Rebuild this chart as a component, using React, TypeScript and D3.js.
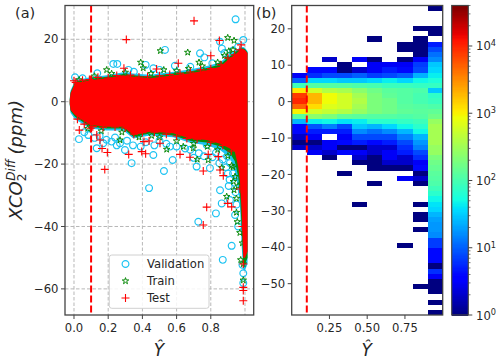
import * as d3 from "d3";

// scatter panel: the dense cloud is drawn as an envelope, isolated points as markers
const bandX = [-0.025, -0.02, 0.006, 0.094, 0.191, 0.288, 0.347, 0.444, 0.58, 0.678, 0.776, 0.854, 0.912, 0.94, 0.96, 0.971, 0.98, 0.99, 1.0, 1.015];
const testUpper = [0.5, 2.7, 5.9, 6.9, 7.5, 8.5, 8, 7.5, 8.5, 9.1, 10.1, 11.2, 13.9, 15, 16, 16.6, 16.8, 16.8, 16.6, 15.5];
const testLower = [-0.5, -2.7, -4.3, -7.5, -8, -8, -10.7, -9.6, -10.1, -11.8, -12.3, -13.5, -15, -16, -20.8, -26, -34.7, -50, -50, -48];
const trainUpper = [0.8, 3, 6.3, 7.3, 8, 8.9, 8.5, 8.1, 9.1, 9.7, 10.8, 11.9, 14.6, 15.8, 16.6, 17, 17.1, 17.1, 16.9, 15.8];
const trainLower = [-0.8, -3, -4.8, -8, -8.6, -8.6, -11.2, -10.2, -10.8, -12.5, -13.1, -14.4, -16.5, -19, -24, -30, -40, -52, -52, -50];
const validUpper = [1, 3.6, 6.8, 7.8, 8.5, 9.4, 9, 8.6, 9.6, 10.3, 11.4, 12.6, 15.4, 16.4, 17, 17.4, 17.5, 17.5, 17.2, 16.2];
const validLower = [-1, -3.6, -5.6, -8.6, -9.2, -9.2, -11.8, -10.8, -11.4, -13.2, -14, -15.5, -18, -22, -28, -34, -46, -54, -54, -52];

const validPoints = [
  [0.945, 26.4], [0.854, 19.2], [0.99, 19.8], [0.532, 16.6], [0.737, 15.5], [0.762, 14.2], [0.23, 12.1], [0.253, 12.1],
  [0.318, 10.2], [0.006, 7.8], [0.05, 7.5], [0.136, 9.1], [0.419, 11.8], [0.464, 10.7], [0.59, 11.5], [0.809, 12.3],
  [0.88, 15.6], [0.91, 14.6], [0.93, 16.4], [0.96, 17.6], [0.865, 17], [0.35, 9.6], [0.5, 10.2], [0.68, 11.2],
  [0.029, -12], [0.084, -10.7], [0.133, -14.9], [0.337, -19.7], [0.526, -22.2], [0.464, -17.1], [0.577, -18.7], [0.717, -20.8],
  [0.795, -21.3], [0.298, -15.5], [0.269, -13.3], [0.22, -12.8], [0.171, -13.3], [0.39, -14.4], [0.561, -14.4], [0.776, -13.9],
  [0.912, -19.7], [0.87, -18.5], [0.85, -19.7], [0.12, -11.6], [0.25, -14], [0.47, -14], [0.65, -15], [0.73, -16.5],
  [0.06, -9.8], [0.15, -11], [0.19, -12.2], [0.24, -11.5], [0.31, -12.5], [0.345, -14], [0.42, -13], [0.5, -12.5], [0.54, -13.5],
  [0.6, -14.4], [0.68, -15.4], [0.7, -18], [0.76, -17.5], [0.81, -17.8], [0.83, -16.4], [0.89, -21], [0.895, -17.5], [0.9, -23],
  [0.439, -27.7], [0.854, -28.4], [0.864, -32.6], [0.83, -35.8], [0.727, -38.5], [0.922, -46.2], [0.87, -50.7], [0.942, -36.3],
  [0.912, -31.5], [0.905, -27], [0.945, -29], [0.96, -40], [0.99, -55], [0.99, -58.1], [0.985, -52.3], [0.93, -23], [0.91, -25],
  [0.94, -26], [0.95, -33], [0.955, -24],
];
const trainPoints = [
  [0.899, 20.5], [0.936, 19.6], [0.505, 16.3], [0.665, 15.8], [0.731, 12.6], [0.191, 10.2], [0.39, 12.6], [0.405, 10.8],
  [0.525, 10.2], [0.67, 10.6], [0.905, 16.2], [0.9, 13.6], [0.86, 11.8], [0.269, -12.3], [0.454, -10.9], [0.542, -15.3],
  [0.639, -14.4], [0.698, -14.9], [0.721, -18.5], [0.785, -18.7], [0.864, -21.2], [0.922, -20.5], [0.942, -24], [0.932, -25.6],
  [0.893, -30.4], [0.936, -28.3], [0.955, -38.5], [0.975, -50.7], [0.99, -52], [0.99, -57.2], [0.985, -45.3], [0.95, -31],
  [0.95, -35.5], [0.96, -27], [0.97, -42],
];
const testPoints = [
  [0.702, 25.9], [0.306, 19.9], [0.85, 19.6], [0.977, 18.2], [0.8, 14.7], [0.61, 12.3], [0.292, 10.7], [0.483, 10.5],
  [0.0, 6.7], [0.031, -9.1], [0.098, -8.5], [0.133, -10.7], [0.152, -12.3], [0.164, -15], [0.195, -16.3], [0.18, -21.7],
  [0.32, -16.9], [0.396, -16], [0.419, -16.7], [0.409, -12.8], [0.439, -12.6], [0.503, -13.3], [0.62, -16.9], [0.678, -17.8],
  [0.756, -22.2], [0.785, -16.9], [0.844, -17.6], [0.854, -21.9], [0.873, -23.7], [0.776, -33.8], [0.756, -39.5], [0.899, -32.6],
  [0.922, -33.7], [0.99, -52], [0.99, -59.5], [0.99, -60.5], [0.99, -63.8],
];
const testEdge = [
  [0.01, 6.2], [0.05, 6.9], [0.09, 7.1], [0.14, 7.8], [0.2, 7.6], [0.25, 8.4], [0.33, 8.5], [0.38, 7.9], [0.43, 8], [0.5, 8.3],
  [0.56, 8.7], [0.62, 9.1], [0.68, 9.5], [0.74, 10.2], [0.8, 10.6], [0.86, 11.8], [0.9, 14], [0.94, 15], [0.97, 16.6],
  [0.02, -5.6], [0.06, -7.2], [0.11, -8], [0.17, -8.2], [0.24, -8.1], [0.3, -8.4], [0.35, -10.4], [0.4, -9.9], [0.47, -9.8], [0.54, -10.4],
  [0.6, -11], [0.66, -11.8], [0.72, -12], [0.8, -13], [0.87, -14], [0.92, -15.8], [0.97, -28], [0.985, -40],
];
const trainEdge = [
  [0.03, 7], [0.12, 8.2], [0.22, 9], [0.3, 9.4], [0.45, 9], [0.6, 9.9], [0.75, 11.4], [0.84, 12.6], [0.88, 14.8], [0.93, 16.6],
  [0.08, -8.6], [0.16, -9.4], [0.28, -9.8], [0.38, -11.4], [0.5, -11.4], [0.6, -12.6], [0.7, -13.4], [0.78, -14.4], [0.84, -15.4], [0.9, -17.4], [0.93, -21],
];

// histogram panel: counts per cell, one row per y bin from the top, ten x bins
const histRows = [
  [0, 0, 0, 0, 0, 0, 0, 0, 0, 1],
  [0, 0, 0, 0, 0, 0, 0, 0, 0, 0],
  [0, 0, 0, 0, 0, 0, 0, 0, 0, 0],
  [0, 0, 0, 0, 0, 0, 0, 0, 0, 0],
  [0, 0, 0, 0, 0, 0, 0, 0, 1, 1],
  [0, 0, 0, 0, 0, 0, 0, 0, 0, 1],
  [0, 0, 0, 0, 0, 1, 0, 0, 1, 0],
  [0, 0, 0, 0, 0, 0, 0, 1, 1, 5],
  [0, 0, 0, 0, 0, 0, 0, 1, 1, 8],
  [0, 0, 0, 0, 0, 0, 0, 0, 1, 12],
  [0, 0, 2, 0, 3, 1, 0, 1, 3, 16],
  [0, 0, 0, 1, 0, 3, 3, 3, 7, 30],
  [0, 4, 4, 1, 2, 3, 5, 4, 8, 35],
  [3, 6, 8, 8, 10, 7, 8, 10, 24, 45],
  [10, 35, 35, 30, 30, 35, 45, 35, 50, 60],
  [90, 120, 120, 120, 110, 100, 85, 85, 80, 80],
  [1100, 600, 400, 350, 240, 170, 130, 120, 110, 30],
  [8000, 2000, 900, 600, 340, 200, 140, 120, 100, 75],
  [10000, 2000, 900, 600, 400, 200, 170, 120, 100, 85],
  [5000, 1300, 700, 600, 340, 200, 170, 130, 120, 110],
  [1000, 600, 500, 400, 280, 200, 170, 140, 130, 140],
  [130, 240, 200, 140, 130, 120, 120, 110, 120, 170],
  [25, 45, 50, 40, 45, 70, 70, 80, 90, 280],
  [4, 9, 14, 8, 30, 25, 35, 50, 70, 340],
  [4, 5, 5, 5, 16, 12, 16, 25, 50, 340],
  [2, 3, 0, 3, 8, 8, 8, 14, 25, 340],
  [1, 1, 3, 4, 5, 4, 5, 8, 18, 340],
  [2, 2, 3, 1, 1, 2, 2, 6, 14, 280],
  [0, 3, 2, 4, 3, 2, 3, 5, 8, 280],
  [0, 0, 1, 0, 2, 1, 3, 2, 6, 200],
  [0, 0, 0, 0, 1, 1, 2, 2, 3, 170],
  [0, 0, 0, 0, 0, 1, 1, 1, 4, 150],
  [0, 0, 0, 1, 0, 0, 0, 0, 1, 130],
  [0, 0, 0, 0, 0, 0, 0, 3, 2, 120],
  [0, 0, 0, 0, 0, 1, 0, 0, 1, 110],
  [0, 0, 0, 0, 0, 0, 0, 0, 0, 90],
  [0, 0, 0, 0, 0, 0, 0, 0, 0, 70],
  [0, 0, 0, 0, 0, 0, 0, 0, 0, 50],
  [0, 0, 0, 0, 1, 0, 0, 0, 1, 40],
  [0, 0, 0, 0, 0, 0, 0, 0, 0, 35],
  [0, 0, 0, 0, 0, 0, 0, 0, 1, 25],
  [0, 0, 0, 0, 0, 0, 0, 0, 1, 20],
  [0, 0, 0, 0, 0, 0, 0, 0, 0, 18],
  [0, 0, 0, 0, 0, 0, 0, 0, 1, 18],
  [0, 0, 0, 0, 0, 0, 0, 0, 0, 16],
  [0, 0, 0, 0, 0, 0, 0, 0, 0, 7],
  [0, 0, 0, 0, 0, 0, 0, 1, 0, 7],
  [0, 0, 0, 0, 0, 0, 0, 0, 0, 4],
  [0, 0, 0, 0, 0, 0, 0, 0, 0, 4],
  [0, 0, 0, 0, 0, 0, 0, 0, 0, 4],
  [0, 0, 0, 0, 0, 0, 0, 0, 0, 1],
  [0, 0, 0, 0, 0, 0, 0, 0, 0, 6],
  [0, 0, 0, 0, 0, 0, 0, 0, 0, 3],
  [0, 0, 0, 0, 0, 0, 0, 0, 0, 1],
  [0, 0, 0, 0, 0, 0, 0, 0, 1, 1],
  [0, 0, 0, 0, 0, 0, 0, 0, 0, 1],
  [0, 0, 0, 0, 0, 0, 0, 0, 0, 0],
  [0, 0, 0, 0, 0, 0, 0, 0, 0, 1],
  [0, 0, 0, 0, 0, 0, 0, 0, 0, 0],
  [0, 0, 0, 0, 0, 0, 0, 0, 0, 1],
];
const histYMax = 26.4;
const histYMin = -58.6;

const scatterXTicks = [0, 0.2, 0.4, 0.6, 0.8];
const scatterYTicks = [20, 0, -20, -40, -60];
const histXTicks = [0.25, 0.5, 0.75];
const histYTicks = [20, 10, 0, -10, -20, -30, -40, -50];
const colorTicks = [1, 10, 100, 1000, 10000];
const colorMinor = [2, 3, 4, 5, 6, 7, 8, 9, 20, 30, 40, 50, 60, 70, 80, 90, 200, 300, 400, 500, 600, 700, 800, 900, 2000, 3000, 4000, 5000, 6000, 7000, 8000, 9000, 20000, 30000, 40000];
const threshold = 0.1;
const colorMax = 40000;

const FONT = "'DejaVu Sans', sans-serif";
const INK = "#262626";
const SPINE = "#444";
const TOP = 5.5;
const BOTTOM = 315;
const TICK_SIZE = 11.6;

const sx = d3.scaleLinear().domain([-0.0526, 1.0509]).range([65, 253.7]);
const sy = d3.scaleLinear().domain([30.83, -68.37]).range([TOP, BOTTOM]);
const hx = d3.scaleLinear().domain([0, 1]).range([291.7, 442.7]);
const hy = d3.scaleLinear().domain([histYMax, histYMin]).range([TOP, BOTTOM]);
const cy = d3.scaleLog().domain([1, colorMax]).range([BOTTOM, TOP]);

// matplotlib's jet, channel by channel
const jetR = d3.scaleLinear().domain([0, 0.35, 0.66, 0.89, 1]).range([0, 0, 1, 1, 0.5]);
const jetG = d3.scaleLinear().domain([0, 0.125, 0.375, 0.64, 0.91, 1]).range([0, 0, 1, 1, 0, 0]);
const jetB = d3.scaleLinear().domain([0, 0.11, 0.34, 0.65, 1]).range([0.5, 1, 1, 0, 0]);
const jet = (t: number) => d3.rgb(jetR(t) * 255, jetG(t) * 255, jetB(t) * 255).formatHex();
const countT = d3.scaleLog().domain([1, colorMax]).range([0, 1]).clamp(true);

const bandPath = (upper: number[], lower: number[]) =>
  d3.area<number>()
    .x((d) => sx(d))
    .y0((_, i) => sy(lower[i]))
    .y1((_, i) => sy(upper[i]))(bandX) as string;

const circle = d3.symbol(d3.symbolCircle, 36)() as string;
const star = d3.symbol(d3.symbolStar, 13)() as string;
const plus = d3.symbol(d3.symbolPlus, 23)() as string;

const VALID = { stroke: "#1cc3f2", strokeWidth: 1.2, fill: "none" };
const TRAIN = { stroke: "#0a8a0a", strokeWidth: 1, fill: "none" };
const TEST = { stroke: "#ff0000", strokeWidth: 1.1, fill: "none" };

const fmtY = d3.format("d");

function Markers({ points, d, style }: { points: number[][]; d: string; style: object }) {
  return (
    <g {...style}>
      {points.map((p, i) => (
        <path key={i} d={d} transform={`translate(${sx(p[0])},${sy(p[1])})`} />
      ))}
    </g>
  );
}

function Frame({ x0, x1 }: { x0: number; x1: number }) {
  return <rect x={x0} y={TOP} width={x1 - x0} height={BOTTOM - TOP} fill="none" stroke={SPINE} strokeWidth={1.3} />;
}

function YTicks({ ticks, scale, x }: { ticks: number[]; scale: (v: number) => number; x: number }) {
  return (
    <g>
      {ticks.map((t) => (
        <g key={t}>
          <line x1={x - 4} x2={x} y1={scale(t)} y2={scale(t)} stroke={SPINE} strokeWidth={1} />
          <text x={x - 6.5} y={scale(t) + 4.2} textAnchor="end" fontSize={TICK_SIZE} fill={INK}>{fmtY(t)}</text>
        </g>
      ))}
    </g>
  );
}

function XTicks({ ticks, scale, fmt }: { ticks: number[]; scale: (v: number) => number; fmt: string }) {
  return (
    <g>
      {ticks.map((t) => (
        <g key={t}>
          <line x1={scale(t)} x2={scale(t)} y1={BOTTOM} y2={BOTTOM + 4} stroke={SPINE} strokeWidth={1} />
          <text x={scale(t)} y={BOTTOM + 17} textAnchor="middle" fontSize={TICK_SIZE} fill={INK}>{d3.format(fmt)(t)}</text>
        </g>
      ))}
    </g>
  );
}

const legendEntries = [
  { label: "Validation", d: circle, style: VALID, y: 264 },
  { label: "Train", d: star, style: TRAIN, y: 281 },
  { label: "Test", d: plus, style: TEST, y: 298 },
];

export default function App() {
  const binW = hx(0.1) - hx(0);
  const binH = (hy(histYMin) - hy(histYMax)) / histRows.length;
  return (
    <svg width={500} height={361} style={{ position: "absolute", left: 0, top: 0 }} fontFamily={FONT}>
      <defs>
        <clipPath id="scatterClip">
          <rect x={65} y={TOP} width={188.7} height={BOTTOM - TOP} />
        </clipPath>
      </defs>
      <rect width={500} height={361} fill="#fff" />

      {/* (a) scatter */}
      <g stroke="#b8b8b8" strokeWidth={1} strokeDasharray="3.5 2">
        {scatterXTicks.concat(1).map((t) => <line key={t} x1={sx(t)} x2={sx(t)} y1={TOP} y2={BOTTOM} />)}
        {scatterYTicks.map((t) => <line key={t} x1={65} x2={253.7} y1={sy(t)} y2={sy(t)} />)}
      </g>
      <g clipPath="url(#scatterClip)">
        <Markers points={validPoints} d={circle} style={VALID} />
        <path d={bandPath(validUpper, validLower)} fill={VALID.stroke} />
        <Markers points={trainPoints} d={star} style={TRAIN} />
        <Markers points={trainEdge} d={star} style={TRAIN} />
        <path d={bandPath(trainUpper, trainLower)} fill={TRAIN.stroke} />
        <path d={bandPath(testUpper, testLower)} fill={TEST.stroke} />
        <Markers points={testEdge} d={plus} style={TEST} />
        <Markers points={testPoints} d={plus} style={TEST} />
        <line x1={sx(threshold)} x2={sx(threshold)} y1={TOP} y2={BOTTOM} stroke="#ff0000" strokeWidth={2} strokeDasharray="7 3" />
      </g>
      <Frame x0={65} x1={253.7} />
      <XTicks ticks={scatterXTicks} scale={sx} fmt=".1f" />
      <YTicks ticks={scatterYTicks} scale={sy} x={65} />
      <rect x={109.3} y={255} width={99.7} height={53.3} rx={2.5} fill="#fff" fillOpacity={0.85} stroke="#d0d0d0" strokeWidth={1} />
      {legendEntries.map((e) => (
        <g key={e.label}>
          <path d={e.d} transform={`translate(125.5,${e.y})`} {...e.style} />
          <text x={147} y={e.y + 4.2} fontSize={11.6} fill={INK}>{e.label}</text>
        </g>
      ))}
      <text x={15} y={18} fontSize={14.5} fill={INK}>(a)</text>
      <text x={159} y={356} textAnchor="middle" fontSize={17} fontStyle="italic" fill={INK}>Ŷ</text>
      <text transform="translate(22,160) rotate(-90)" textAnchor="middle" fontSize={18} fontStyle="italic" fill={INK}>
        XCO<tspan dy={4} fontSize={12} fontStyle="normal">2</tspan>
        <tspan dy={-11.5} dx={-7} fontSize={12}>Diff</tspan>
        <tspan dy={7.5} dx={5}>(ppm)</tspan>
      </text>

      {/* (b) histogram */}
      <g shapeRendering="crispEdges">
        {histRows.map((row, r) =>
          row.map((count, c) =>
            count > 0 ? (
              <rect
                key={`${r}-${c}`}
                x={hx(c / row.length)}
                y={hy(histYMax) + r * binH}
                width={binW}
                height={binH}
                fill={jet(countT(count))}
              />
            ) : null
          )
        )}
      </g>
      <line x1={hx(threshold)} x2={hx(threshold)} y1={TOP} y2={BOTTOM} stroke="#ff0000" strokeWidth={2} strokeDasharray="7 3" />
      <Frame x0={291.7} x1={442.7} />
      <XTicks ticks={histXTicks} scale={hx} fmt=".2f" />
      <YTicks ticks={histYTicks} scale={hy} x={291.7} />
      <text x={256} y={18} fontSize={14.5} fill={INK}>(b)</text>
      <text x={366.7} y={356} textAnchor="middle" fontSize={17} fontStyle="italic" fill={INK}>Ŷ</text>

      {/* colorbar */}
      <g shapeRendering="crispEdges">
        {d3.range(0, 256).map((i) => (
          <rect
            key={i}
            x={451.7}
            y={TOP + ((255 - i) * (BOTTOM - TOP)) / 256}
            width={16.6}
            height={(BOTTOM - TOP) / 256 + 0.6}
            fill={jet(i / 255)}
          />
        ))}
      </g>
      <rect x={451.7} y={TOP} width={16.6} height={BOTTOM - TOP} fill="none" stroke={SPINE} strokeWidth={1.2} />
      {colorMinor.map((t) => (
        <line key={t} x1={468.3} x2={470.5} y1={cy(t)} y2={cy(t)} stroke={SPINE} strokeWidth={0.7} />
      ))}
      {colorTicks.map((t, i) => (
        <g key={t}>
          <line x1={468.3} x2={472.3} y1={cy(t)} y2={cy(t)} stroke={SPINE} strokeWidth={1} />
          <text x={476} y={cy(t) + 4.5} fontSize={11.6} fill={INK}>
            10<tspan dy={-4.5} fontSize={8.2}>{i}</tspan>
          </text>
        </g>
      ))}
    </svg>
  );
}
